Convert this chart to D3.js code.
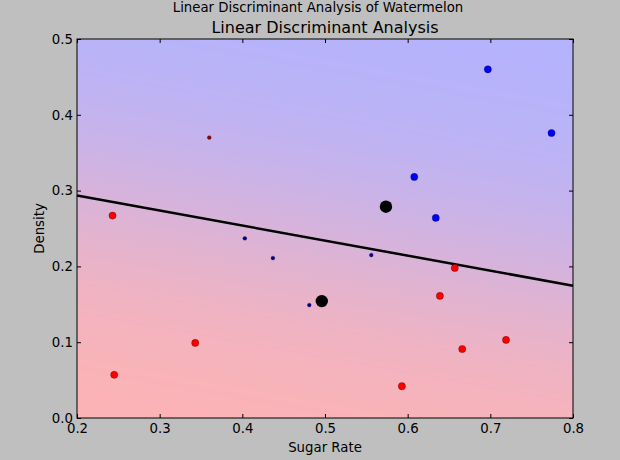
<!DOCTYPE html>
<html>
<head>
<meta charset="utf-8">
<script src="https://cdn.jsdelivr.net/npm/d3@7"></script>
<style>
  body { margin: 0; background: #bfbfbf; }
  svg { display: block; font-family: "DejaVu Sans", sans-serif; }
</style>
</head>
<body>
<div id="chart"></div>
<script>
// watermelon data
var goodX = [0.697, 0.774, 0.634, 0.608, 0.556, 0.403, 0.481, 0.437];
var goodY = [0.460, 0.376, 0.264, 0.318, 0.215, 0.237, 0.149, 0.211];
var badX  = [0.666, 0.243, 0.245, 0.343, 0.639, 0.657, 0.360, 0.593, 0.719];
var badY  = [0.091, 0.267, 0.057, 0.099, 0.161, 0.198, 0.370, 0.042, 0.103];

var xTicks = [0.2, 0.3, 0.4, 0.5, 0.6, 0.7, 0.8];
var yTicks = [0.0, 0.1, 0.2, 0.3, 0.4, 0.5];

var W = 620, H = 460;
var pLeft = 77, pRight = 573, pTop = 39, pBottom = 418;

var x = d3.scaleLinear().domain([0.2, 0.8]).range([pLeft, pRight]);
var y = d3.scaleLinear().domain([0.0, 0.5]).range([pBottom, pTop]);

// --- fit LDA (shared covariance, svd-style scaling n - k) ---
var good = goodX.map(function(d, i) { return [d, goodY[i]]; });
var bad = badX.map(function(d, i) { return [d, badY[i]]; });
function mean(pts) {
  return [d3.mean(pts, function(p) { return p[0]; }), d3.mean(pts, function(p) { return p[1]; })];
}
var m1 = mean(good), m0 = mean(bad);
var sxx = 0, syy = 0, sxy = 0;
[[good, m1], [bad, m0]].forEach(function(c) {
  c[0].forEach(function(p) {
    var dx = p[0] - c[1][0], dy = p[1] - c[1][1];
    sxx += dx * dx; syy += dy * dy; sxy += dx * dy;
  });
});
var n = good.length + bad.length;
sxx /= (n - 2); syy /= (n - 2); sxy /= (n - 2);
var det = sxx * syy - sxy * sxy;
var ixx = syy / det, iyy = sxx / det, ixy = -sxy / det;
var dmx = m1[0] - m0[0], dmy = m1[1] - m0[1];
var w0 = ixx * dmx + ixy * dmy, w1 = ixy * dmx + iyy * dmy;
var b = -(w0 * (m1[0] + m0[0]) / 2 + w1 * (m1[1] + m0[1]) / 2) + Math.log(good.length / bad.length);
function decision(px, py) { return w0 * px + w1 * py + b; }
function proba(px, py) { return 1 / (1 + Math.exp(-decision(px, py))); }

var svg = d3.select("#chart").append("svg").attr("width", W).attr("height", H);

// background probability map (red_blue_classes colormap)
var cw = pRight - pLeft, ch = pBottom - pTop;
var canvas = document.createElement("canvas");
canvas.width = cw; canvas.height = ch;
var ctx = canvas.getContext("2d");
var img = ctx.createImageData(cw, ch);
for (var j = 0; j < ch; j++) {
  for (var i = 0; i < cw; i++) {
    var p = proba(x.invert(pLeft + i + 0.5), y.invert(pTop + j + 0.5));
    var k = (j * cw + i) * 4;
    img.data[k] = Math.round(255 * (1 - 0.3 * p));
    img.data[k + 1] = Math.round(255 * 0.7);
    img.data[k + 2] = Math.round(255 * (0.7 + 0.3 * p));
    img.data[k + 3] = 255;
  }
}
ctx.putImageData(img, 0, 0);
svg.append("image")
  .attr("x", pLeft).attr("y", pTop)
  .attr("width", cw).attr("height", ch)
  .attr("href", canvas.toDataURL());

// decision boundary (p = 0.5)
var lineX = [0.2, 0.8];
svg.append("path")
  .datum(lineX.map(function(d) { return [d, -(w0 * d + b) / w1]; }))
  .attr("fill", "none").attr("stroke", "#000").attr("stroke-width", 2.5)
  .attr("d", d3.line().x(function(d) { return x(d[0]); }).y(function(d) { return y(d[1]); }));

// points: big = correctly classified, small = misclassified
function drawPts(pts, cls, big, small) {
  svg.append("g").selectAll("circle")
    .data(pts).enter().append("circle")
    .attr("cx", function(d) { return x(d[0]); })
    .attr("cy", function(d) { return y(d[1]); })
    .attr("r", function(d) { return ((decision(d[0], d[1]) > 0 ? 1 : 0) === cls) ? 3.6 : 1.9; })
    .style("fill", function(d) { return ((decision(d[0], d[1]) > 0 ? 1 : 0) === cls) ? big : small; })
    .style("stroke", "#000").style("stroke-width", 0.5).style("stroke-opacity", 0.6);
}
drawPts(bad, 0, "#ff0000", "#990000");
drawPts(good, 1, "#0000ff", "#000099");

// class means
svg.append("g").selectAll("circle")
  .data([m0, m1]).enter().append("circle")
  .attr("cx", function(d) { return x(d[0]); })
  .attr("cy", function(d) { return y(d[1]); })
  .attr("r", 6.2).style("fill", "#000");

// axes, ticks inside on all four sides
function style(g) {
  g.select(".domain").remove();
  g.selectAll("line").attr("stroke", "#000");
  g.selectAll("text").attr("fill", "#000").style("font-size", "13.3px").style("font-family", "DejaVu Sans");
}
svg.append("g").attr("transform", "translate(0," + pBottom + ")")
  .call(d3.axisBottom(x).tickValues(xTicks).tickFormat(d3.format(".1f")).tickSizeInner(-4).tickSizeOuter(0).tickPadding(6))
  .call(style);
svg.append("g").attr("transform", "translate(0," + pTop + ")")
  .call(d3.axisTop(x).tickValues(xTicks).tickFormat("").tickSizeInner(-4).tickSizeOuter(0))
  .call(style);
svg.append("g").attr("transform", "translate(" + pLeft + ",0)")
  .call(d3.axisLeft(y).tickValues(yTicks).tickFormat(d3.format(".1f")).tickSizeInner(-4).tickSizeOuter(0).tickPadding(4))
  .call(style);
svg.append("g").attr("transform", "translate(" + pRight + ",0)")
  .call(d3.axisRight(y).tickValues(yTicks).tickFormat("").tickSizeInner(-4).tickSizeOuter(0))
  .call(style);

svg.append("rect")
  .attr("x", pLeft).attr("y", pTop).attr("width", cw).attr("height", ch)
  .attr("fill", "none").attr("stroke", "#000").attr("stroke-width", 1);

// titles and labels
svg.append("text").attr("x", 318).attr("y", 11.5)
  .attr("text-anchor", "middle").style("font-size", "13.3px")
  .text("Linear Discriminant Analysis of Watermelon");
svg.append("text").attr("x", (pLeft + pRight) / 2).attr("y", 33)
  .attr("text-anchor", "middle").style("font-size", "16px")
  .text("Linear Discriminant Analysis");
svg.append("text").attr("x", (pLeft + pRight) / 2).attr("y", 452)
  .attr("text-anchor", "middle").style("font-size", "13.3px")
  .text("Sugar Rate");
svg.append("text").attr("transform", "translate(44," + ((pTop + pBottom) / 2) + ") rotate(-90)")
  .attr("text-anchor", "middle").style("font-size", "13.3px")
  .text("Density");
</script>
</body>
</html>
